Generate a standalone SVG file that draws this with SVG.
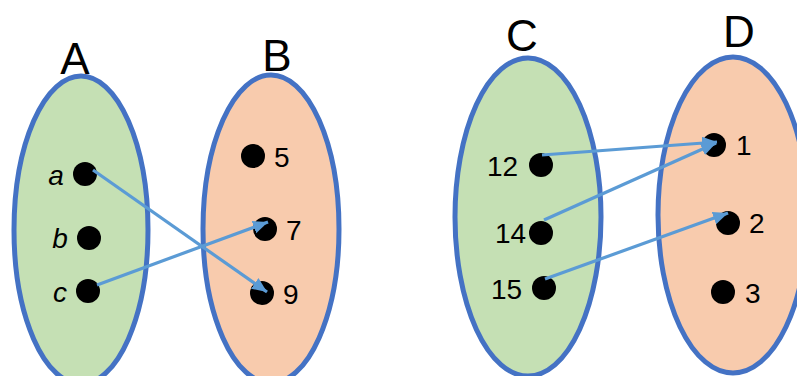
<svg xmlns="http://www.w3.org/2000/svg" width="797" height="376" viewBox="0 0 797 376">
<defs>
<style>
.setA{fill:#C5E0B4;stroke:#4472C4;stroke-width:5}
.setB{fill:#F8CBAD;stroke:#4472C4;stroke-width:5}
.dot{fill:#000}
.title{font-family:"Liberation Sans",Arial,sans-serif;font-size:44px;fill:#000;text-anchor:middle}
.lbl{font-family:"Liberation Sans",Arial,sans-serif;font-size:28px;fill:#000}
.it{font-style:italic;text-anchor:middle}
.arrow{stroke:#5B9BD5;stroke-width:3.2;fill:none;marker-end:url(#ah)}
</style>
<marker id="ah" markerUnits="userSpaceOnUse" markerWidth="16" markerHeight="14" refX="15" refY="6.5" orient="auto">
<path d="M0,0 L15,6.5 L0,13 z" fill="#5B9BD5"/>
</marker>
</defs>
<g id="setA">
<ellipse class="setA" cx="81" cy="230" rx="67" ry="154"/>
<text class="title" x="75" y="74">A</text>
<circle class="dot" cx="85" cy="174" r="12"/>
<circle class="dot" cx="89" cy="238" r="12"/>
<circle class="dot" cx="88" cy="291" r="12"/>
<text class="lbl it" x="56" y="185">a</text>
<text class="lbl it" x="60" y="248">b</text>
<text class="lbl it" x="60" y="302">c</text>
</g>
<g id="setB">
<ellipse class="setB" cx="271" cy="229" rx="68" ry="154"/>
<text class="title" x="277" y="71">B</text>
<circle class="dot" cx="253" cy="156" r="12"/>
<circle class="dot" cx="265" cy="229" r="12"/>
<circle class="dot" cx="262" cy="293" r="12"/>
<text class="lbl" x="274" y="167">5</text>
<text class="lbl" x="286" y="240">7</text>
<text class="lbl" x="283" y="304">9</text>
</g>
<g id="setC">
<ellipse class="setA" cx="528" cy="217" rx="73" ry="159"/>
<text class="title" x="522" y="51">C</text>
<circle class="dot" cx="541" cy="165" r="12"/>
<circle class="dot" cx="541" cy="233" r="12"/>
<circle class="dot" cx="544" cy="288" r="12"/>
<text class="lbl" x="487" y="176">12</text>
<text class="lbl" x="495" y="243">14</text>
<text class="lbl" x="491" y="299">15</text>
</g>
<g id="setD">
<ellipse class="setB" cx="733" cy="215" rx="75" ry="158"/>
<text class="title" x="739" y="47">D</text>
<circle class="dot" cx="714" cy="145" r="12"/>
<circle class="dot" cx="728" cy="223" r="12"/>
<circle class="dot" cx="723" cy="292" r="12"/>
<text class="lbl" x="736" y="155">1</text>
<text class="lbl" x="749" y="233">2</text>
<text class="lbl" x="745" y="303">3</text>
</g>
<g id="connectors">
<line class="arrow" x1="93" y1="170" x2="267" y2="292"/>
<line class="arrow" x1="97" y1="285" x2="268" y2="222"/>
<line class="arrow" x1="542" y1="155" x2="717" y2="142"/>
<line class="arrow" x1="544" y1="220" x2="716" y2="143"/>
<line class="arrow" x1="545" y1="279" x2="728" y2="213"/>
</g>
</svg>
